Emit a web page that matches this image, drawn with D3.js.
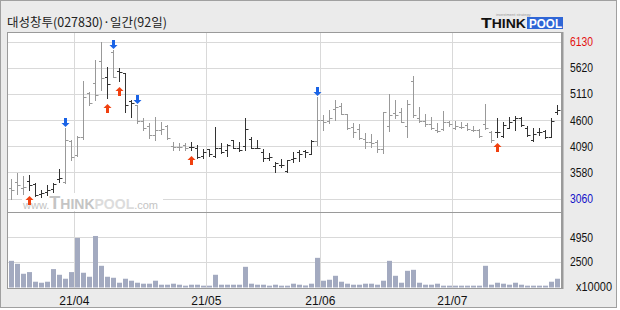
<!DOCTYPE html>
<html>
<head>
<meta charset="utf-8">
<script src="https://cdn.jsdelivr.net/npm/d3@7"></script>
<style>
  body { margin: 0; background: #fff; }
  svg { display: block; }
</style>
</head>
<body>
<svg id="chart" width="620" height="310"></svg>
<script>
// daily bars, 2021-03-17 .. 2021-07-26 (92 sessions)
var high  = [3450,3560,3500,3530,3370,3240,3330,3370,3650,4450,4210,4300,5370,5150,5780,6130,5650,5970,5620,5520,
             5000,4900,4650,4540,4670,4560,4500,4170,4150,4150,4170,4120,4040,4040,4470,4150,4130,4210,4170,4650,
             4280,4210,4040,3950,3790,3840,3820,3970,4020,4020,4210,5060,4700,4800,5000,4930,4716,4540,4520,4345,
             4325,4214,4756,5108,4996,4846,4996,5471,4865,4716,4670,4540,4781,4586,4586,4573,4540,4494,4430,4912,
             4390,4650,4560,4670,4690,4670,4494,4443,4455,4410,4638,4898]
var low   = [3060,3150,3150,3240,3110,3100,3140,3200,3400,3370,3820,3900,4230,4900,5000,5190,5040,5450,5370,4760,
             4670,4540,4410,4260,4210,4330,4230,4020,4020,4020,4020,3870,3870,3910,3890,3950,3910,4060,4000,4020,
             4060,4050,3800,3820,3580,3690,3580,3790,3800,3890,3935,4120,4410,4540,4605,4716,4430,4280,4234,4050,
             4085,3985,3954,4396,4650,4560,4280,4670,4560,4494,4430,4376,4410,4494,4430,4443,4410,4390,4280,4430,
             4181,4280,4279,4443,4410,4494,4298,4195,4312,4260,4279,4716]
var open  = [3280,3400,3280,3420,3350,3150,3200,3260,3460,3400,4190,3920,4280,5130,5320,5760,5450,5940,5560,5520,
             4980,4890,4590,4490,4310,4400,4490,4100,4070,4110,4070,4050,3910,4040,3910,4050,4020,4210,4050,4100,
             4230,4060,3985,3870,3710,3730,3610,3840,3970,3990,3940,4195,4600,4590,4820,4885,4716,4475,4430,4240,
             4170,4170,4040,4494,4736,4756,4494,5368,4650,4586,4521,4410,4430,4560,4455,4474,4507,4410,4410,4521,
             4364,4364,4292,4455,4605,4650,4443,4214,4364,4390,4279,4768]
var close = [3240,3330,3300,3330,3140,3170,3240,3350,3480,4210,3890,4280,5060,4930,5090,5430,5300,5450,5540,4890,
             4930,4590,4440,4310,4410,4420,4250,4070,4070,4050,4070,3890,3970,3935,4050,3970,4110,4060,4020,4420,
             4060,4060,3870,3890,3760,3720,3820,3870,3935,3985,4195,4605,4560,4640,4865,4716,4443,4376,4247,4170,
             4150,4040,4756,4703,4703,4560,4912,4703,4586,4521,4443,4390,4560,4521,4494,4474,4430,4410,4292,4455,
             4214,4364,4507,4560,4638,4507,4312,4325,4364,4280,4586,4801]
// volume, x10000 shares
var volume = [2630,2335,1355,1520,570,470,570,1815,1255,865,1520,4885,1455,1060,5080,2140,1060,960,470,865,
              670,470,375,375,670,275,275,375,275,180,275,275,180,180,1255,275,275,275,275,2040,
              375,275,275,180,275,180,180,375,275,200,375,2925,670,765,1155,570,375,275,275,375,
              375,275,670,2630,1155,470,1645,1745,470,275,275,375,180,180,180,180,180,180,180,2140,
              275,470,375,275,470,275,180,180,180,180,570,865]

var buySignals  = [3, 16, 18, 30, 81]
var sellSignals = [9, 17, 21, 51]

var priceTicks  = [6130, 5620, 5110, 4600, 4090, 3580, 3060]
var volumeTicks = [4950, 2500]
var monthLabels = ['21/04', '21/05', '21/06', '21/07']
var monthStart  = [11, 33, 52, 74]

var title = '대성창투(027830)·일간(92일)'

var svg = d3.select('#chart')
var n = close.length

// panel edges (don't use "top": it's window.top)
var pLeft = 7, pRight = 562, pTop = 32, pMid = 212, pBottom = 288

var x = d3.scaleBand()
  .domain(d3.range(n))
  .range([8.3, 560.3])

var y = d3.scaleLinear()
  .domain([3060, 6130])
  .range([199, 42])

var yv = d3.scaleLinear()
  .domain([0, 4950])
  .range([287.5, 237.3])

function cx(i) { return Math.round(x(i) + x.bandwidth() / 2) + 0.5 }
function py(v) { return Math.round(y(v)) + 0.5 }

// background + outer frame
svg.append('rect')
  .attr('x', 0.5).attr('y', 0.5)
  .attr('width', 616).attr('height', 307)
  .attr('fill', '#ebebeb')
  .attr('stroke', '#a0a0a0')

svg.append('rect')
  .attr('x', pLeft).attr('y', pTop)
  .attr('width', pRight - pLeft).attr('height', pBottom - pTop)
  .attr('fill', '#fff')

// grid
var grid = svg.append('g').attr('stroke', '#d9d9d9').attr('stroke-width', 1)

grid.selectAll('.hp').data(priceTicks).enter().append('line')
  .attr('x1', pLeft).attr('x2', pRight)
  .attr('y1', d => py(d)).attr('y2', d => py(d))

grid.selectAll('.hv').data(volumeTicks).enter().append('line')
  .attr('x1', pLeft).attr('x2', pRight)
  .attr('y1', d => Math.round(yv(d)) + 0.5).attr('y2', d => Math.round(yv(d)) + 0.5)

grid.selectAll('.vm').data(monthStart).enter().append('line')
  .attr('x1', d => Math.round(x(d)) + 0.5).attr('x2', d => Math.round(x(d)) + 0.5)
  .attr('y1', pTop).attr('y2', pBottom)

// watermark
var wm = svg.append('g')
wm.append('rect')
  .attr('x', 22).attr('y', 193).attr('width', 141).attr('height', 18)
  .attr('fill', '#fff')
var wmText = wm.append('text')
  .attr('x', 23).attr('y', 209)
  .attr('font-family', 'Liberation Sans, Arial, sans-serif')
  .attr('font-weight', 'bold')
  .attr('fill', '#c4c4c4')
wmText.append('tspan').attr('font-size', 11).attr('font-weight', 'normal').text('www.')
wmText.append('tspan').attr('font-size', 18).text('T')
wmText.append('tspan').attr('font-size', 14).text('HINK')
wmText.append('tspan').attr('font-size', 14).attr('fill', '#dcdcdc').text('POOL')
wmText.append('tspan').attr('font-size', 11).attr('font-weight', 'normal').text('.com')

// signal state: dark after a buy arrow, gray after a sell arrow
var state = []
var cur = false
for (var i = 0; i < n; i++) {
  if (buySignals.indexOf(i) >= 0) cur = true
  if (sellSignals.indexOf(i) >= 0) cur = false
  state.push(cur)
}
function barColor(i) { return state[i] ? '#333333' : '#999999' }

// price bars
var bars = svg.append('g').attr('class', 'bars')
  .selectAll('g').data(d3.range(n)).enter().append('g')
  .attr('stroke', i => barColor(i))
  .attr('stroke-width', 1)

bars.append('line')
  .attr('x1', i => cx(i)).attr('x2', i => cx(i))
  .attr('y1', i => Math.round(y(high[i]))).attr('y2', i => Math.round(y(low[i])) + 1)
bars.append('line')
  .attr('x1', i => cx(i) - 2.5).attr('x2', i => cx(i))
  .attr('y1', i => py(open[i])).attr('y2', i => py(open[i]))
bars.append('line')
  .attr('x1', i => cx(i)).attr('x2', i => cx(i) + 3)
  .attr('y1', i => py(close[i])).attr('y2', i => py(close[i]))

// signal arrows
function upArrow(c, t) {
  return 'M' + c + ',' + t + 'L' + (c + 4) + ',' + (t + 4) + 'L' + (c + 1.5) + ',' + (t + 4) +
    'L' + (c + 1.5) + ',' + (t + 9) + 'L' + (c - 1.5) + ',' + (t + 9) + 'L' + (c - 1.5) + ',' + (t + 4) +
    'L' + (c - 4) + ',' + (t + 4) + 'Z'
}
function downArrow(c, b) {
  return 'M' + c + ',' + b + 'L' + (c + 4) + ',' + (b - 4) + 'L' + (c + 1.5) + ',' + (b - 4) +
    'L' + (c + 1.5) + ',' + (b - 9) + 'L' + (c - 1.5) + ',' + (b - 9) + 'L' + (c - 1.5) + ',' + (b - 4) +
    'L' + (c - 4) + ',' + (b - 4) + 'Z'
}

svg.append('g').selectAll('path').data(buySignals).enter().append('path')
  .attr('d', i => upArrow(cx(i), Math.round(y(low[i])) + 6))
  .attr('fill', '#f0400f')

svg.append('g').selectAll('path').data(sellSignals).enter().append('path')
  .attr('d', i => downArrow(cx(i), Math.round(y(high[i])) - 1))
  .attr('fill', '#1a63e6')

// volume bars
svg.append('g').attr('class', 'volume')
  .selectAll('rect').data(volume).enter().append('rect')
  .attr('x', (d, i) => Math.round(x(i)) + 1)
  .attr('width', 5)
  .attr('y', d => yv(d))
  .attr('height', d => yv(0) - yv(d))
  .attr('fill', '#a3aac0')

// panel frame
var frame = svg.append('g').attr('stroke', '#9a9a9a').attr('fill', 'none')
frame.append('rect')
  .attr('x', pLeft + 0.5).attr('y', pTop + 0.5)
  .attr('width', pRight - pLeft - 1).attr('height', pBottom - pTop)
frame.append('line')
  .attr('x1', pLeft).attr('x2', pRight)
  .attr('y1', pMid + 0.5).attr('y2', pMid + 0.5)
frame.append('line')
  .attr('x1', pRight + 0.5).attr('x2', pRight + 0.5)
  .attr('y1', pTop).attr('y2', pBottom + 1)
  .attr('stroke-width', 2)

// right axis labels
var axisFont = 'Liberation Sans, Arial, sans-serif'
svg.append('g').selectAll('text').data(priceTicks).enter().append('text')
  .attr('x', 570).attr('y', d => y(d)).attr('dy', '0.36em')
  .attr('font-family', axisFont).attr('font-size', 12)
  .attr('textLength', 23).attr('lengthAdjust', 'spacingAndGlyphs')
  .attr('fill', (d, i) => i == 0 ? '#e41010' : (i == priceTicks.length - 1 ? '#1010c8' : '#111'))
  .text(d => d)

svg.append('g').selectAll('text').data(volumeTicks).enter().append('text')
  .attr('x', 570).attr('y', d => yv(d)).attr('dy', '0.36em')
  .attr('font-family', axisFont).attr('font-size', 12)
  .attr('textLength', 23).attr('lengthAdjust', 'spacingAndGlyphs')
  .attr('fill', '#111')
  .text(d => d)

svg.append('text')
  .attr('x', 576).attr('y', 287).attr('dy', '0.36em')
  .attr('font-family', axisFont).attr('font-size', 12)
  .attr('textLength', 36).attr('lengthAdjust', 'spacingAndGlyphs')
  .attr('fill', '#111')
  .text('x10000')

// month labels
svg.append('g').selectAll('text').data(monthLabels).enter().append('text')
  .attr('x', (d, i) => x(monthStart[i])).attr('y', 305)
  .attr('text-anchor', 'middle')
  .attr('font-family', axisFont).attr('font-size', 12)
  .attr('fill', '#111')
  .text(d => d)

// title
svg.append('text')
  .attr('x', 7).attr('y', 27)
  .attr('font-family', 'Noto Sans CJK KR, sans-serif')
  .attr('font-size', 12.5)
  .attr('fill', '#222')
  .text(title)

// logo
var logo = svg.append('g')
logo.append('rect')
  .attr('x', 527).attr('y', 17).attr('width', 36).attr('height', 12)
  .attr('fill', '#2f66d6')
var logoText = logo.append('text')
  .attr('x', 481).attr('y', 28)
  .attr('font-family', 'Liberation Sans, Arial, sans-serif')
  .attr('font-weight', 'bold')
  .attr('textLength', 45).attr('lengthAdjust', 'spacingAndGlyphs')
logoText.append('tspan').attr('font-size', 15).attr('fill', '#111').text('T')
logoText.append('tspan').attr('font-size', 12).attr('fill', '#111').text('HINK')
logo.append('text')
  .attr('x', 529).attr('y', 28)
  .attr('font-family', 'Liberation Sans, Arial, sans-serif')
  .attr('font-weight', 'bold').attr('font-size', 13)
  .attr('textLength', 33).attr('lengthAdjust', 'spacingAndGlyphs')
  .attr('fill', '#fff')
  .text('POOL')
logo.append('text')
  .attr('x', 496).attr('y', 16)
  .attr('font-family', 'Liberation Sans, Arial, sans-serif')
  .attr('font-size', 4).attr('fill', '#999')
  .text('investment strategy')
</script>
</body>
</html>
